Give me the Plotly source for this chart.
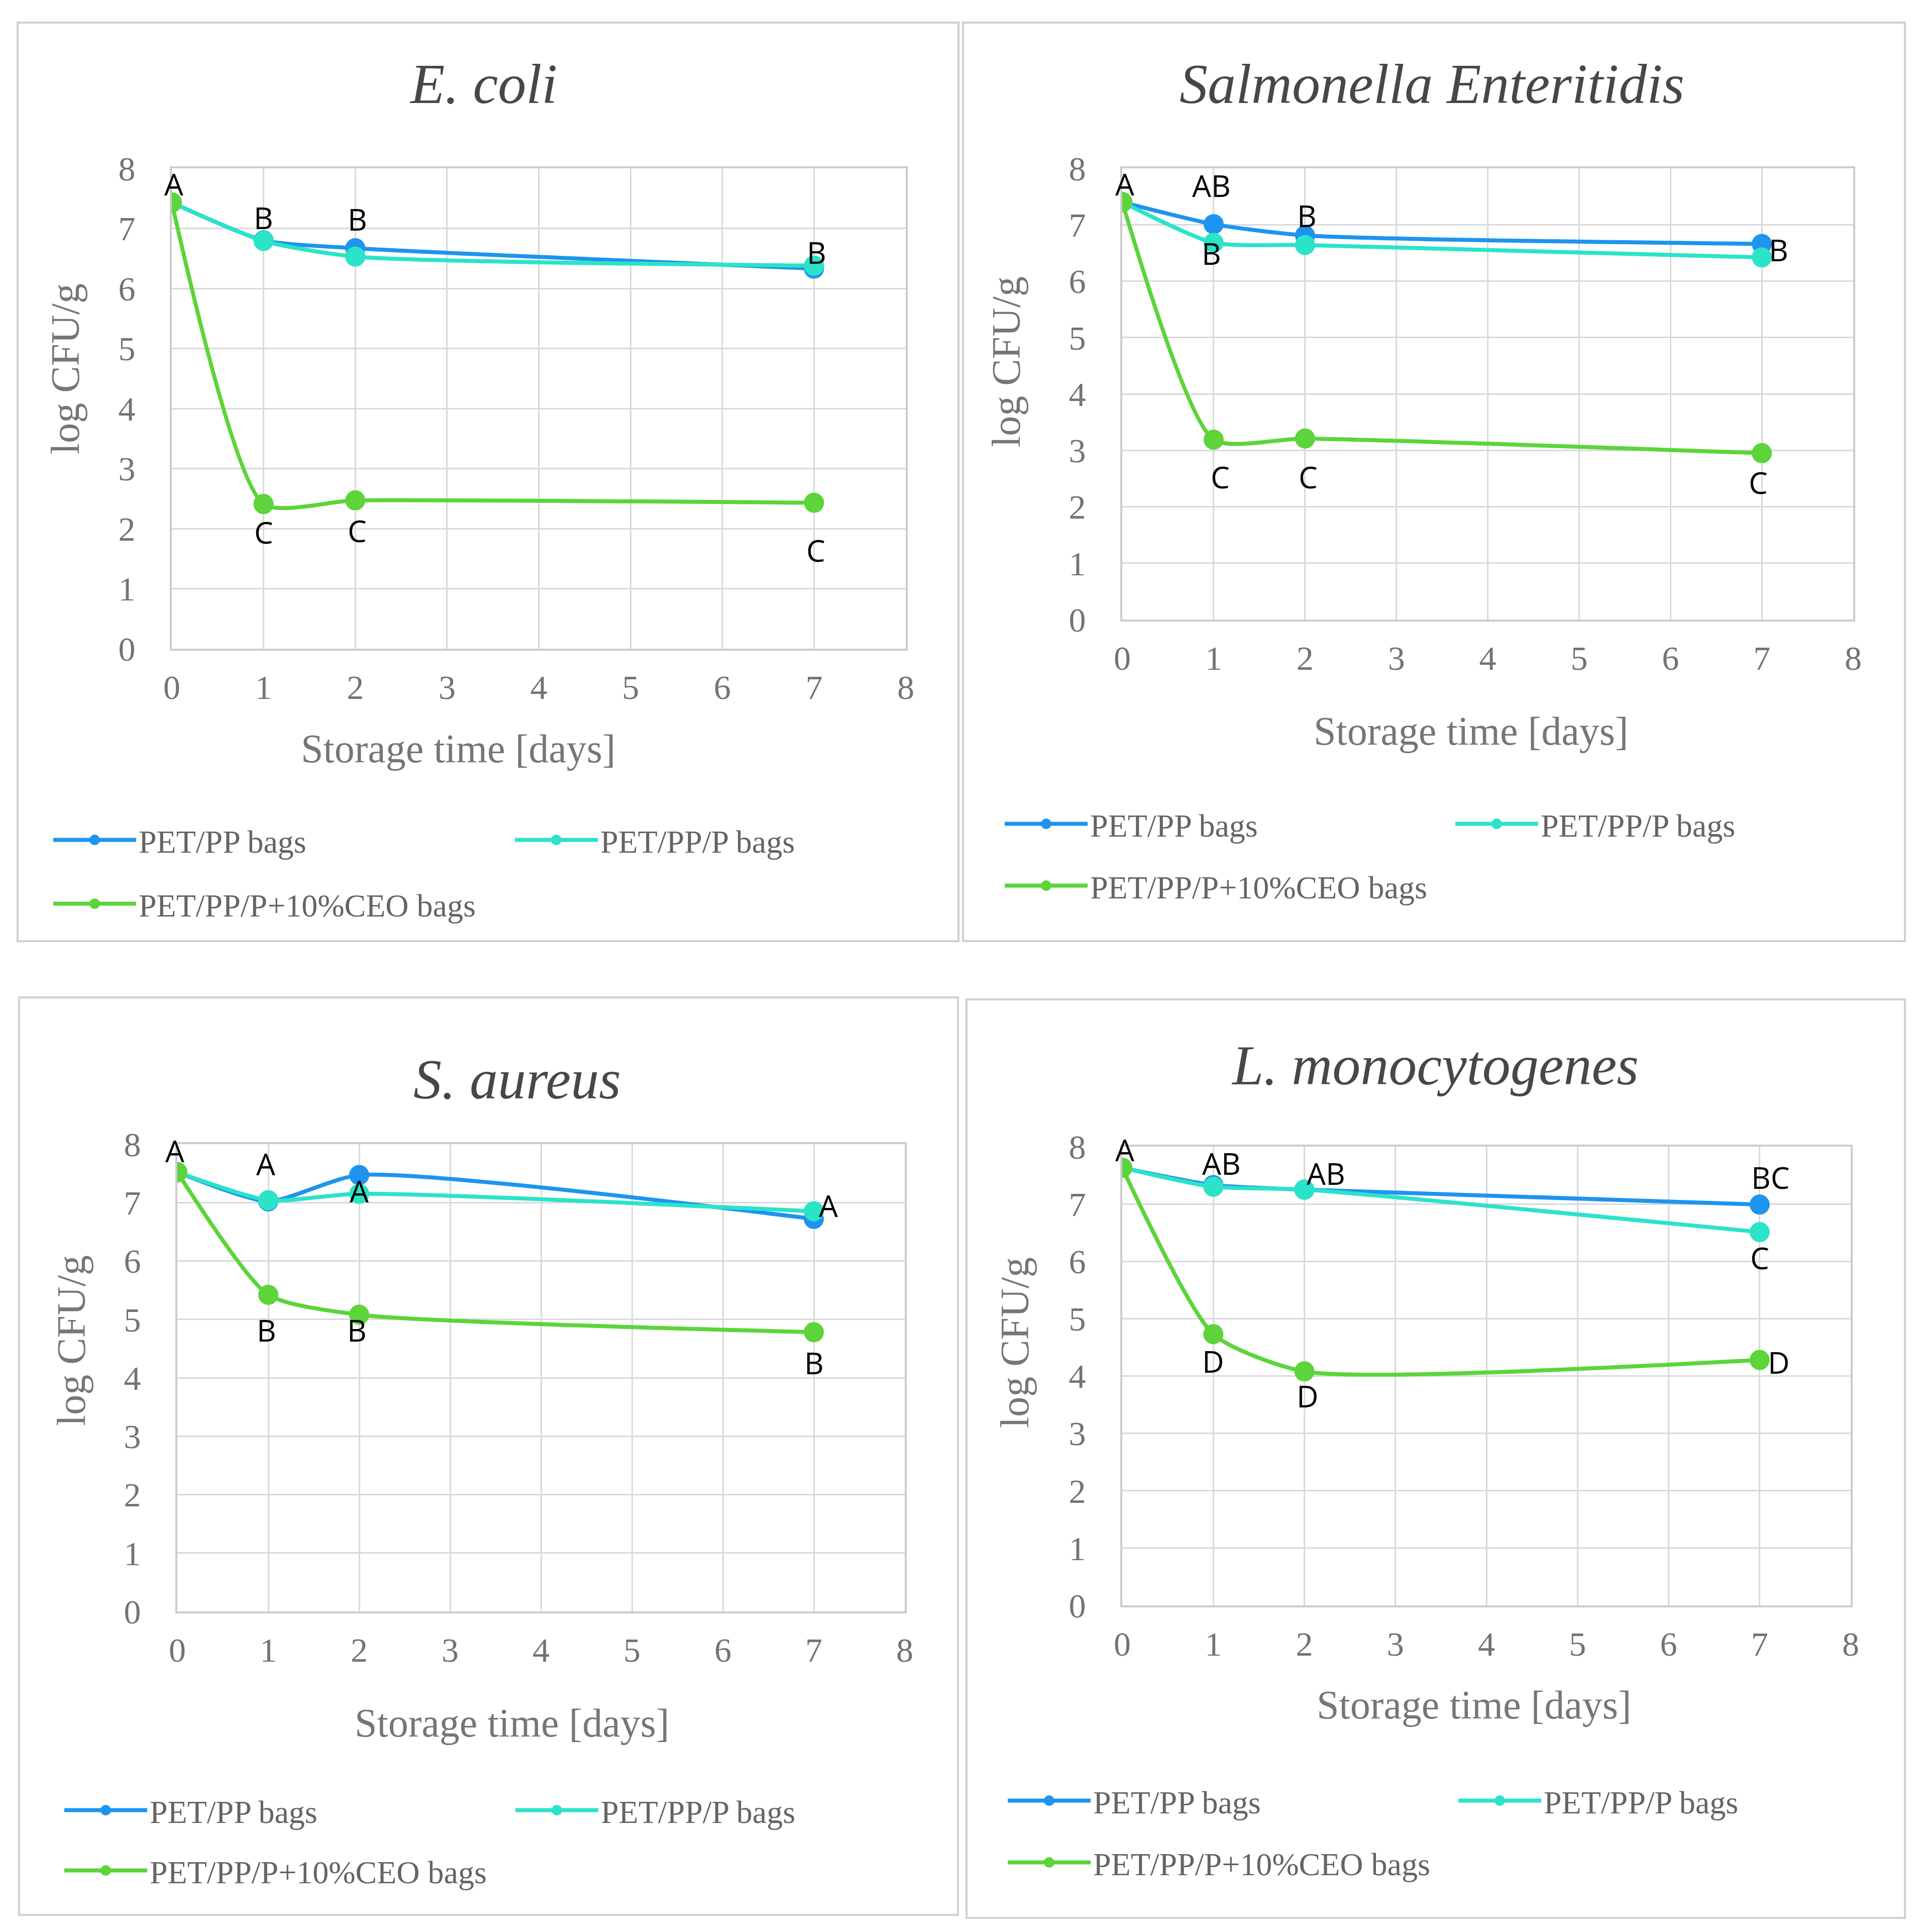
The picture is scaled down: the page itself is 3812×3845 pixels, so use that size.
import plotly.graph_objects as go

# ---------------- data ----------------
days = [0, 1, 2, 7]
series_names = ["PET/PP bags", "PET/PP/P bags", "PET/PP/P+10%CEO bags"]
panel_titles = ["E. coli", "Salmonella Enteritidis", "S. aureus", "L. monocytogenes"]
x_title = "Storage time [days]"
y_title = "log CFU/g"

ecoli_pp = [7.43, 6.80, 6.67, 6.33]
ecoli_ppp = [7.43, 6.79, 6.53, 6.38]
ecoli_ceo = [7.43, 2.41, 2.47, 2.43]

salm_pp = [7.40, 7.01, 6.81, 6.66]
salm_ppp = [7.40, 6.68, 6.64, 6.42]
salm_ceo = [7.40, 3.19, 3.21, 2.95]

saur_pp = [7.52, 7.02, 7.47, 6.72]
saur_ppp = [7.52, 7.04, 7.15, 6.85]
saur_ceo = [7.52, 5.42, 5.08, 4.78]

lmono_pp = [7.63, 7.33, 7.25, 6.99]
lmono_ppp = [7.63, 7.30, 7.25, 6.51]
lmono_ceo = [7.63, 4.73, 4.08, 4.28]

# significance letters: (series index, point index, letter)
ecoli_letters = [(2, 0, "A"), (0, 1, "B"), (0, 2, "B"), (0, 3, "B"),
                 (2, 1, "C"), (2, 2, "C"), (2, 3, "C")]
salm_letters = [(2, 0, "A"), (0, 1, "AB"), (1, 1, "B"), (0, 2, "B"), (0, 3, "B"),
                (2, 1, "C"), (2, 2, "C"), (2, 3, "C")]
saur_letters = [(2, 0, "A"), (0, 1, "A"), (1, 2, "A"), (1, 3, "A"),
                (2, 1, "B"), (2, 2, "B"), (2, 3, "B")]
lmono_letters = [(2, 0, "A"), (0, 1, "AB"), (0, 2, "AB"), (0, 3, "BC"), (1, 3, "C"),
                 (2, 1, "D"), (2, 2, "D"), (2, 3, "D")]

x_ticks = [0, 1, 2, 3, 4, 5, 6, 7, 8]
y_ticks = [0, 1, 2, 3, 4, 5, 6, 7, 8]

# ---------------- styling / layout ----------------
W, H = 3812, 3845
colors = ["#1E94EE", "#2BE3C9", "#5CD43A"]

panels = [
    dict(series=[ecoli_pp, ecoli_ppp, ecoli_ceo], letters=ecoli_letters,
         offsets=[(4, 37), (0, 45), (4, 58), (5, 33), (0, -56), (4, -60), (4, -94)],
         xdom=(334, 1795), ydom=(327, 1283), title_xy=(954, 159),
         xt_xy=(904, 1482), yt_xy=(122, 726),
         legend_pos=[(103, 1664), (1022, 1664), (103, 1791)], box=(27, 37, 1900, 1865)),
    dict(series=[salm_pp, salm_ppp, salm_ceo], letters=salm_letters,
         offsets=[(5, 36), (-4, 77), (-4, -21), (4, 40), (33, -12), (13, -74), (6, -76), (-7, -58)],
         xdom=(2226, 3681), ydom=(327, 1225), title_xy=(2842, 159),
         xt_xy=(2920, 1447), yt_xy=(1995, 712),
         legend_pos=[(1997, 1632), (2894, 1632), (1997, 1755)], box=(1909, 37, 3784, 1865)),
    dict(series=[saur_pp, saur_ppp, saur_ceo], letters=saur_letters,
         offsets=[(-5, 43), (-5, 75), (0, 6), (29, 12), (-4, -70), (-5, -31), (0, -61)],
         xdom=(345, 1793), ydom=(2269, 3199), title_xy=(1021, 2140),
         xt_xy=(1011, 3421), yt_xy=(134, 2660),
         legend_pos=[(125, 3595), (1023, 3595), (125, 3715)], box=(30, 1977, 1899, 3803)),
    dict(series=[lmono_pp, lmono_ppp, lmono_ceo], letters=lmono_letters,
         offsets=[(5, 36), (16, 43), (43, 33), (22, 54), (0, -51), (0, -54), (6, -49), (38, -4)],
         xdom=(2226, 3676), ydom=(2274, 3187), title_xy=(2848, 2112),
         xt_xy=(2926, 3385), yt_xy=(2012, 2664),
         legend_pos=[(2003, 3576), (2900, 3576), (2003, 3699)], box=(1916, 1981, 3784, 3809)),
]

serif = "Liberation Serif, Times New Roman, serif"
fig = go.Figure()
annotations = []
shapes = []
layout = dict(width=W, height=H, margin=dict(l=0, r=0, t=0, b=0),
              paper_bgcolor="white", plot_bgcolor="white", showlegend=True)

leg_common = dict(orientation="h", xanchor="left", yanchor="middle",
                  font=dict(family=serif, size=64, color="#646464"),
                  bgcolor="rgba(0,0,0,0)", itemwidth=165, itemsizing="trace",
                  tracegroupgap=0, itemclick=False, itemdoubleclick=False)

for p_i, pan in enumerate(panels):
    n = p_i + 1
    xa = "x" if n == 1 else f"x{n}"
    ya = "y" if n == 1 else f"y{n}"
    for s_i, vals in enumerate(pan["series"]):
        k = 3 * p_i + s_i + 1
        leg_name = "legend" if k == 1 else f"legend{k}"
        fig.add_trace(go.Scatter(
            x=days, y=vals, name=series_names[s_i], mode="lines+markers",
            line=dict(color=colors[s_i], width=8, shape="spline", smoothing=0.6),
            marker=dict(color=colors[s_i], size=35, line=dict(color=colors[s_i], width=5)),
            xaxis=xa, yaxis=ya, legend=leg_name, hoverinfo="x+y+name"))
        lx, ly = pan["legend_pos"][s_i]
        layout[leg_name] = dict(leg_common, x=(lx - 10) / W, y=1 - ly / H)
    x0, x1 = pan["xdom"]
    y0, y1 = pan["ydom"]
    axis_common = dict(showgrid=True, gridcolor="#d9d9d9", gridwidth=3,
                       showline=True, linecolor="#cccccc", linewidth=4, mirror=True,
                       zeroline=False, ticks="", automargin=False,
                       tickfont=dict(family=serif, size=68, color="#737373"),
                       tickmode="array", fixedrange=True)
    layout["xaxis" if n == 1 else f"xaxis{n}"] = dict(
        axis_common, domain=[x0 / W, x1 / W], anchor=ya, range=[0, 8],
        tickvals=x_ticks, ticklabelstandoff=14)
    layout["yaxis" if n == 1 else f"yaxis{n}"] = dict(
        axis_common, domain=[1 - y1 / H, 1 - y0 / H], anchor=xa, range=[0, 8],
        tickvals=y_ticks, ticklabelstandoff=55)
    # panel title
    tx, ty = pan["title_xy"]
    annotations.append(dict(text=f"<i>{panel_titles[p_i]}</i>", x=tx / W, y=1 - ty / H,
                            xref="paper", yref="paper", showarrow=False,
                            xanchor="center", yanchor="middle",
                            font=dict(family=serif, size=112, color="#474747")))
    # axis titles
    ax_font = dict(family=serif, size=80, color="#767676")
    xtx, xty = pan["xt_xy"]
    annotations.append(dict(text=x_title, x=xtx / W, y=1 - xty / H, xref="paper", yref="paper",
                            showarrow=False, xanchor="center", yanchor="middle", font=ax_font))
    ytx, yty = pan["yt_xy"]
    annotations.append(dict(text=y_title, x=ytx / W, y=1 - yty / H, xref="paper", yref="paper",
                            showarrow=False, xanchor="center", yanchor="middle",
                            textangle=-90, font=ax_font))
    # letters
    for (s_i, d_i, txt), (dx, dy) in zip(pan["letters"], pan["offsets"]):
        annotations.append(dict(text=txt, x=days[d_i], y=pan["series"][s_i][d_i],
                                xref=xa, yref=ya, showarrow=False, xshift=dx, yshift=dy,
                                xanchor="center", yanchor="middle",
                                font=dict(family="Open Sans, Arial, sans-serif", size=60,
                                          color="#000000")))
    # panel border
    bx0, by0, bx1, by1 = pan["box"]
    shapes.append(dict(type="rect", xref="paper", yref="paper",
                       x0=bx0 / W, x1=bx1 / W, y0=1 - by1 / H, y1=1 - by0 / H,
                       line=dict(color="#d0d0d0", width=4), fillcolor="rgba(0,0,0,0)",
                       layer="below"))

layout["annotations"] = annotations
layout["shapes"] = shapes
fig.update_layout(**layout)
fig.write_html("out.html")
